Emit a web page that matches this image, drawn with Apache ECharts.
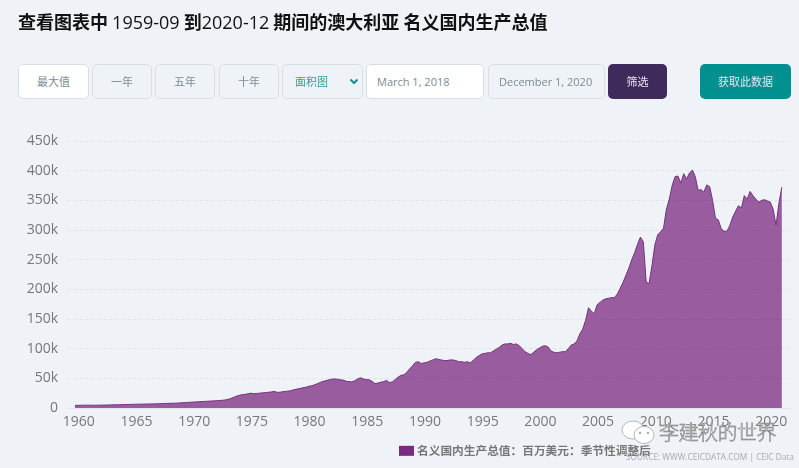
<!DOCTYPE html>
<html><head><meta charset="utf-8">
<script src="https://cdn.jsdelivr.net/npm/echarts@6/dist/echarts.min.js"></script>
<style>
html,body{margin:0;padding:0;background:#eff3f8;width:799px;height:468px;overflow:hidden;font-family:"Noto Sans CJK SC","Open Sans",sans-serif}
#chart{position:absolute;left:0;top:0;width:799px;height:468px}
h1{position:absolute;left:18px;top:8px;margin:0;font-size:18px;line-height:26px;font-weight:700;color:#111;white-space:nowrap;font-family:"Noto Sans CJK SC",sans-serif}
h1 span{font-weight:400;font-family:"Open Sans",sans-serif;font-size:18px}
.b{position:absolute;top:64px;height:33px;line-height:33px;box-sizing:content-box;border:1px solid #d5dfe5;border-radius:5px;text-align:center;font-size:11px;color:#7d8a92;background:#eff3f8}
.w{background:#fff}
.d{font-family:"Open Sans",sans-serif;font-size:11px;text-align:left;padding-left:10px}
.f{border:none;height:35px;line-height:35px;color:#e8e4ee}
#wm{position:absolute;left:659px;top:418px;font-size:20px;line-height:28px;color:#fff;-webkit-text-stroke:.6px #777;letter-spacing:-.5px;white-space:nowrap;font-family:"Noto Sans CJK SC",sans-serif;font-weight:300}
#src{position:absolute;left:626px;top:451px;font-size:8.3px;line-height:12px;color:#a3a9ae;font-family:"Open Sans",sans-serif;white-space:nowrap}
svg{position:absolute}
</style></head><body>
<div id="chart"></div>
<h1>查看图表中 <span>1959-09</span> 到<span>2020-12</span> 期间的澳大利亚 名义国内生产总值</h1>
<div class="b w" style="left:18px;width:69px">最大值</div>
<div class="b" style="left:92px;width:58px">一年</div>
<div class="b" style="left:155px;width:58px">五年</div>
<div class="b" style="left:219px;width:58px">十年</div>
<div class="b" style="left:282px;width:79px;color:#2f9c9c;text-align:left;text-indent:12px">面积图</div>
<svg style="left:349px;top:78px" width="10" height="7" viewBox="0 0 10 7"><path d="M1.5 1.5 L5 5 L8.5 1.5" fill="none" stroke="#0f8f92" stroke-width="2"/></svg>
<div class="b w d" style="left:366px;width:106px">March 1, 2018</div>
<div class="b d" style="left:488px;width:105px">December 1, 2020</div>
<div class="b f" style="left:608px;width:59px;background:#3f2a5c">筛选</div>
<div class="b f" style="left:700px;width:91px;background:#00908f">获取此数据</div>
<svg style="left:621px;top:419px" width="38" height="28" viewBox="0 0 38 28"><ellipse cx="12" cy="11" rx="11" ry="9" fill="#fff" stroke="#999" stroke-width=".7"/><ellipse cx="23" cy="16" rx="10" ry="8.5" fill="#fff" stroke="#999" stroke-width=".7"/><circle cx="19" cy="14" r="1.2" fill="#aaa"/><circle cx="27" cy="14" r="1.2" fill="#aaa"/></svg>
<div id="wm">李建秋的世界</div>
<div id="src">SOURCE: WWW.CEICDATA.COM | CEIC Data</div>
<script>
// Nominal GDP, USD million (thousands on the axis), quarterly from 1959-09 to 2020-12
const seriesName = '名义国内生产总值：百万美元：季节性调整后';
const firstQuarter = 1959.67;
const xTicks = [1960,1965,1970,1975,1980,1985,1990,1995,2000,2005,2010,2015,2020];
const yMax = 450, yStep = 50;
const gdp = [
4.4,4.5,
4.6,4.7,4.8,4.8, 4.7,4.7,4.7,4.8, 4.9,5.0,5.1,5.3, 5.4,5.5,5.6,5.8, 5.9,6.0,6.2,6.3,
6.4,6.5,6.6,6.7, 6.8,6.9,7.0,7.2, 7.4,7.6,7.8,7.9, 8.0,8.2,8.5,8.8, 9.1,9.4,9.7,10.0,
10.3,10.6,10.9,11.1, 11.4,11.7,12.0,12.3, 12.6,13,13.5,14.5, 16,18,20,21.5, 22.5,23,24,25,
24,24.5,25,25.5, 26,26.5,27,28, 26.5,26.5,27.5,28, 28.5,29.5,31,32, 33,34,35,36.5,
37.5,39,41,43, 45,46,47.5,48.5, 49,48.5,47.5,47, 45,44.5,44,46, 49,51,49,48,
47.5,45,41,42, 43.5,44.5,46.5,43, 44,48,52,55, 56,60,66,71, 77,78,75,76,
77,79,81,83, 82,81,80,80, 81,81,80,78, 78,77,78,76, 80,85,88,91,
92,93,93,96, 99,102,106,108, 108,109,107,108, 105,100,95,92, 90,94,98,101,
104,105,103,96, 94,93,94,95, 95,100,106,108, 113,125,133,148, 169,163,159,174,
178,182,184,185, 186,186,192,202, 212,224,236,250, 262,276,288,280, 212,210,240,275,
292,297,303,335, 352,375,390,391, 379,395,386,396, 401,390,367,368, 364,376,373,350,
320,317,302,298, 298,308,322,332, 341,337,358,352, 365,358,352,347, 350,351,349,347,
335,308,345,372
];
const chart = echarts.init(document.getElementById('chart'), null, {renderer:'canvas'});
chart.setOption({
  animation:false,
  backgroundColor:'#eff3f8',
  grid:{left:67,right:9,top:141,bottom:60},
  legend:{show:true,left:394,top:440,itemWidth:15,itemHeight:10,itemGap:4,icon:'rect',
    textStyle:{color:'#777',fontSize:11.7,fontWeight:'bold',fontFamily:'"Noto Sans CJK SC"',padding:[0,0,0,-2]},
    itemStyle:{color:'#7b2a82',opacity:1,borderWidth:0}},
  xAxis:{type:'value',min:1958.98,max:2021.63,
    axisLine:{show:true,lineStyle:{color:'#e3e3e8',width:1}},axisTick:{show:false},splitLine:{show:false},
    axisLabel:{customValues:xTicks,formatter:v=>String(v),color:'#777',fontSize:14,margin:7,fontFamily:'"Open Sans"',showMinLabel:true,showMaxLabel:true}},
  yAxis:{type:'value',min:0,max:yMax,interval:yStep,
    axisLine:{show:false},axisTick:{show:false},
    splitLine:{show:true,lineStyle:{color:'#dfe5ea',type:'dashed',width:1}},
    axisLabel:{formatter:v=>v===0?'0':v+'k',color:'#777',fontSize:14,margin:9,fontFamily:'"Open Sans"'}},
  series:[{name:seriesName,type:'line',showSymbol:false,symbol:'none',
    data:gdp.map((v,i)=>[firstQuarter+i*0.25,v]),
    lineStyle:{color:'#74337f',width:1},
    areaStyle:{color:'#7b2a82',opacity:.75},
    itemStyle:{color:'#7b2a82'}}]
});
</script>
</body></html>
